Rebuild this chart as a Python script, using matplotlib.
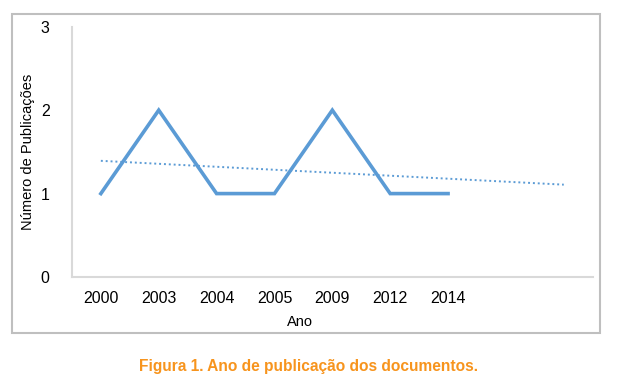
import numpy as np
import matplotlib.pyplot as plt
from matplotlib.patches import Rectangle

plt.rcParams['font.family'] = ['Liberation Sans', 'DejaVu Sans']

anos = ["2000", "2003", "2004", "2005", "2009", "2012", "2014"]
publicacoes = [1, 2, 1, 1, 2, 1, 1]
n_slots = 9          # categories shown on the axis (two empty at the end)
forecast = 2         # trendline forward periods

line_color = "#5B9BD5"
axis_color = "#D9D9D9"

fig = plt.figure(figsize=(6.2, 3.85), dpi=100)

# outer chart border
fig.patches.append(Rectangle((0.0194, 0.135), 0.948, 0.829, transform=fig.transFigure,
                             fill=False, edgecolor="#BFBFBF", linewidth=1.5))

ax = fig.add_axes([0.116, 0.2805, 0.840, 0.650])

x = np.arange(len(anos))
ax.plot(x, publicacoes, color=line_color, linewidth=2.6, solid_joinstyle="miter")

# linear trendline with forward forecast
coef = np.polyfit(x, publicacoes, 1)
xt = np.array([0, len(anos) - 1 + forecast])
ax.plot(xt, np.polyval(coef, xt), color=line_color, linewidth=1.4, linestyle=(0, (1, 1.5)))

ax.set_xlim(-0.5, n_slots - 0.5)
ax.set_ylim(0, 3)
ax.set_xticks(x)
ax.set_xticklabels(anos, fontsize=11.5)
ax.set_yticks([0, 1, 2, 3])
ax.set_yticklabels(["0", "1", "2", "3"], fontsize=11.5)
ax.tick_params(length=0, pad=10)
ax.tick_params(axis="y", pad=16)

for s in ["top", "right"]:
    ax.spines[s].set_visible(False)
for s in ["left", "bottom"]:
    ax.spines[s].set_color(axis_color)
    ax.spines[s].set_linewidth(1.5)

ax.set_xlabel("Ano", fontsize=10.5)
ax.xaxis.set_label_coords(0.438, -0.152)
ax.set_ylabel("Número de Publicações", fontsize=10.5)
ax.yaxis.set_label_coords(-0.07, 0.5)

fig.text(0.497, 0.047, "Figura 1. Ano de publicação dos documentos.", color="#F7941D",
         fontsize=11.2, fontweight="bold", ha="center", va="center")

fig.savefig("out.png", dpi=100)
